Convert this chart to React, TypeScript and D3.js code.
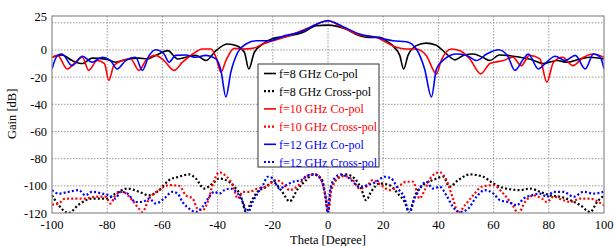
import { useEffect, useRef } from "react";
import * as d3 from "d3";

const WIDTH = 614;
const HEIGHT = 246;
const MARGIN = { top: 16, right: 10, bottom: 33, left: 52 };

type Pt = [number, number];

// co-pol (theta, gain dB)
const co8: Pt[] = [
  [-100, -5.4], [-96.4, -3.7], [-92.7, -7.8], [-89, -10], [-85.5, -6], [-80, -7], [-77, -9],
  [-73.3, -7], [-68.5, -6], [-65.5, -6.6], [-62.4, -4], [-58, -0.5], [-54.5, -6.6], [-51.5, -5.4],
  [-47.9, -4], [-44.2, -7.8], [-40.6, -0.5], [-36.4, 4.4], [-33.3, 3.2], [-30.3, -1.7], [-28.7, -14],
  [-26.7, -1.7], [-23.6, 4.4], [-20, 8.5], [-15, 10], [-9, 13], [-4.2, 17.8], [0, 18.3],
  [6.5, 15.4], [11.4, 10.5], [15, 9.3], [18.7, 9.3], [21, 6.8], [24, 2], [26, -4], [27.4, -14],
  [29, -4], [32, 3.2], [35.6, 5], [39, 3.7], [43, -3], [46, -7.3], [49, -4], [52.6, -3],
  [56, -5.4], [58.7, -7.8], [62, -3.7], [65, -4], [69.6, -5.4], [73, -6.6], [78, -10], [83, -7.8],
  [86.5, -9], [91.4, -6.6], [95, -5.4], [100, -6.6],
];
const co10: Pt[] = [
  [-100, -5.4], [-98, -4], [-94.5, -14], [-91.5, -9], [-89, -5.4], [-86.7, -15], [-83.6, -7.8],
  [-81, -10], [-79.4, -22.4], [-77.6, -11.5], [-74.5, -7.8], [-71.5, -6.6], [-68.5, -15], [-66, -7.8],
  [-62.4, -4], [-59.4, -7.8], [-55.8, -15], [-52.7, -9], [-49, -3], [-45.5, 0.7], [-42.4, 0.7],
  [-40.6, -5.4], [-38.8, -16.3], [-37, -7.8], [-34, 1.2], [-31, 0.7], [-27.3, 1.2], [-23.6, 4.4],
  [-20, 6.8], [-14, 10.5], [-6.7, 16.6], [0, 21.5], [5.3, 16.6], [11.4, 11], [17.5, 9.3],
  [21, 5.6], [24.7, 2], [28.4, 0.7], [32, 0.7], [35.6, -4], [39.3, -17.6], [41, -7.8], [44.7, 0.7],
  [47.8, -0.5], [51.4, -6.6], [55.3, -17.6], [58.7, -10], [63.5, -7.8], [67, -5.4], [70, -11.5],
  [73, -4], [76.8, -6.6], [79.3, -23.7], [81.7, -9], [85, -5.4], [88.7, -11.5], [92.6, -5.4],
  [96, -3], [100, -5.4],
];
const co12: Pt[] = [
  [-100, -14], [-98, -4], [-96.4, -3], [-92.7, -11.5], [-89, -4.6], [-85.5, -9], [-81.8, -5.4],
  [-78.8, -7.8], [-76.4, -14], [-73.3, -7.8], [-69.7, -5.4], [-67.3, -15], [-64.8, -4], [-62.4, 0.2],
  [-59.4, -3], [-57.6, -9], [-55.2, -4], [-51.5, -3.7], [-47.9, -5.4], [-44.2, -4], [-40.6, -6.6],
  [-38.8, -15], [-37, -34.6], [-35.2, -16.3], [-32.7, -1.7], [-29.7, 4.4], [-26, 6.8], [-21.2, 6.8],
  [-16.4, 10], [-9, 14], [-4.2, 19], [0, 21.5], [5.3, 17.3], [11.4, 11.7], [17.5, 9.3], [23.5, 6.8],
  [28.4, 6.1], [32, 0.7], [35, -14], [37.5, -34.6], [39.3, -14], [42.3, -6.6], [46.5, -3],
  [50.2, -4], [53.8, -7.8], [57.5, -3], [61.7, 0.2], [65, -4], [67.7, -15], [70.8, -6.6],
  [72.6, -3], [76.2, -14], [78.7, -10], [82.3, -4.6], [86, -7.8], [89.6, -4], [93.2, -14],
  [96.2, -3], [98.7, -5.4], [100, -14],
];

// cross-pol
const cross8: Pt[] = [
  [-100, -107], [-97.6, -114.3], [-94, -120], [-90.3, -113.8], [-85.5, -109.4], [-80, -109.4],
  [-77, -105.7], [-72.7, -102], [-68.5, -104.4], [-64.8, -107], [-61.2, -103.2], [-57.6, -95.8],
  [-54, -93.3], [-50.3, -91.6], [-47.9, -94.6], [-44.8, -102], [-41.8, -98.3], [-39.4, -94.6],
  [-37, -95.8], [-33.9, -100.7], [-31.5, -108], [-29.7, -119.3], [-27.9, -111.9], [-25.5, -104.4],
  [-22.4, -100.7], [-20, -97], [-17, -103.2], [-13.9, -111.4], [-10.9, -102], [-7.9, -95.8],
  [-5.5, -91.6], [-2.4, -94.6], [-0.8, -109], [0, -120], [1.1, -102], [3.5, -94.6], [6.5, -91.6],
  [9.6, -94.6], [12, -102], [13.8, -110.6], [15.6, -104.4], [18.7, -98.3], [22.3, -99.5],
  [25.3, -105.7], [27.8, -111.9], [29.6, -120], [31.4, -108], [34.4, -99.5], [38, -95.8],
  [41.7, -93.3], [44, -100.7], [47.2, -95.8], [51.4, -91.6], [56.2, -93.3], [59.9, -98.3],
  [62.3, -100.7], [65.9, -102.5], [69.6, -103.2], [73.2, -102], [76.8, -104.4], [80.5, -107],
  [84, -108], [87.8, -110.6], [91.4, -114.3], [95, -119.3], [97.5, -111.9], [100, -107],
];
const cross10: Pt[] = [
  [-100, -113.8], [-97.6, -113], [-95.2, -109.4], [-91.5, -109.4], [-87.9, -109.4], [-84.2, -108],
  [-80.6, -108], [-78.8, -113], [-77, -107], [-74.5, -104.4], [-70.9, -110.6], [-68.5, -116.8],
  [-67.3, -119.3], [-64.8, -109.4], [-61.2, -103.2], [-57.6, -99.5], [-54, -100], [-51.5, -107],
  [-49, -109.4], [-47.3, -116.8], [-45.5, -118], [-43.6, -111.9], [-41.8, -99.5], [-39.4, -90],
  [-37, -92.8], [-34.5, -99.5], [-32.7, -109.4], [-30.9, -104.4], [-28.5, -104.4], [-25.5, -102],
  [-22.4, -100.7], [-18.8, -95.8], [-16.4, -98.3], [-13.9, -103.2], [-10.9, -100], [-7.9, -93.3],
  [-4.2, -91.6], [-1.2, -104.4], [0, -120], [1.1, -104.4], [3.5, -94.6], [5.9, -92.8], [9, -95.8],
  [11.4, -102], [13.8, -100.7], [16.2, -95.8], [19.3, -99.5], [22.3, -103.2], [25.3, -100.7],
  [28.4, -97], [30.8, -97], [33.2, -109.4], [35, -103.2], [37.5, -93.3], [40.5, -90], [42.9, -95.8],
  [45.3, -109.4], [47.2, -120], [49.6, -114.3], [52.6, -107], [55.6, -100.7], [59.9, -99.5],
  [63.5, -105.7], [66.5, -113], [69, -120], [71.4, -111.9], [74.4, -107], [77.5, -109.4],
  [79.3, -111.9], [81.7, -108], [85.3, -110.6], [87.8, -111.9], [91.4, -109.4], [95, -109.4],
  [98, -111.9], [100, -114.3],
];
const cross12: Pt[] = [
  [-100, -103.2], [-97.6, -105.7], [-94, -104.4], [-90.3, -103.2], [-87.9, -107], [-85.5, -104.4],
  [-81.8, -105.7], [-79.4, -107], [-77, -109.4], [-75.2, -104.4], [-72.7, -105.7], [-69.7, -111.9],
  [-67.3, -111.9], [-64.8, -109.4], [-62.4, -113], [-59.4, -109.4], [-56.4, -104.4], [-54.5, -105.7],
  [-52.7, -111.9], [-50.3, -116.8], [-47.9, -119.3], [-45.5, -115.6], [-43, -108], [-41.2, -104.4],
  [-39.4, -105.7], [-37.6, -103.2], [-35.2, -102], [-32.7, -105.7], [-30.9, -111.9], [-29.1, -120],
  [-27.3, -111.9], [-25.5, -105.7], [-23.6, -99.5], [-21.8, -93.3], [-20, -94.6], [-17.6, -102],
  [-15.2, -99.5], [-12.7, -97], [-9.7, -95.8], [-7.3, -92.1], [-4.8, -91.6], [-2.4, -95.8],
  [-0.8, -109.4], [0, -120], [0.7, -104.4], [2.3, -94.6], [4.7, -91.6], [7.8, -94.6], [11.4, -100.7],
  [14.4, -99.5], [17.5, -97], [20.5, -93.3], [22.9, -94.6], [25.3, -102], [27.8, -109.4],
  [29.3, -120], [30.8, -111.9], [33.2, -102], [35.6, -97], [38, -102], [40.5, -100.7], [42.9, -107],
  [45.3, -115.6], [47.8, -119.3], [50.8, -116.8], [53.8, -108], [56.8, -103.2], [59.9, -105.7],
  [62.3, -110.6], [65.3, -111.9], [68.4, -114.3], [70.8, -109.4], [73.8, -107], [76.8, -105.7],
  [79.3, -108], [81.7, -104.4], [85.3, -104.4], [89, -108], [92.6, -104.4], [96.2, -105.7],
  [100, -104.4],
];

const xTicks = [-100, -80, -60, -40, -20, 0, 20, 40, 60, 80, 100];
const yTicks = [25, 0, -20, -40, -60, -80, -100, -120];
const yGrid = [20, 0, -20, -40, -60, -80, -100];

const series = [
  { label: "f=8 GHz Co-pol", data: co8, color: "#000000", dashed: false },
  { label: "f=8 GHz Cross-pol", data: cross8, color: "#000000", dashed: true },
  { label: "f=10 GHz Co-pol", data: co10, color: "#ff0000", dashed: false },
  { label: "f=10 GHz Cross-pol", data: cross10, color: "#ff0000", dashed: true },
  { label: "f=12 GHz Co-pol", data: co12, color: "#0000ff", dashed: false },
  { label: "f=12 GHz Cross-pol", data: cross12, color: "#0000ff", dashed: true },
];

const FONT = "'Liberation Serif', Tinos, 'Times New Roman', Times, 'DejaVu Serif', serif";

const App = () => {
  const ref = useRef<SVGSVGElement>(null);

  useEffect(() => {
    const svg = d3.select(ref.current);
    svg.selectAll("*").remove();

    const bw = WIDTH - MARGIN.left - MARGIN.right;
    const bh = HEIGHT - MARGIN.top - MARGIN.bottom;
    const x = d3.scaleLinear().domain([-100, 100]).range([0, bw]);
    const y = d3.scaleLinear().domain([-120, 25]).range([bh, 0]);

    svg
      .append("defs")
      .append("clipPath")
      .attr("id", "plotClip")
      .append("rect")
      .attr("width", bw)
      .attr("height", bh);

    const g = svg
      .append("g")
      .attr("transform", `translate(${MARGIN.left},${MARGIN.top})`);

    // grid
    g.selectAll(".vgrid")
      .data(xTicks.slice(1, -1))
      .join("line")
      .attr("x1", (d) => x(d))
      .attr("x2", (d) => x(d))
      .attr("y1", 0)
      .attr("y2", bh)
      .attr("stroke", "#9a9a9a")
      .attr("stroke-width", 1)
      .attr("stroke-dasharray", "1.5,1.5");
    g.selectAll(".hgrid")
      .data(yGrid)
      .join("line")
      .attr("x1", 0)
      .attr("x2", bw)
      .attr("y1", (d) => y(d))
      .attr("y2", (d) => y(d))
      .attr("stroke", "#9a9a9a")
      .attr("stroke-width", 1)
      .attr("stroke-dasharray", "1.5,1.5");

    // curves
    const line = d3
      .line<Pt>()
      .x((d) => x(d[0]))
      .y((d) => y(d[1]))
      .curve(d3.curveMonotoneX);

    const curves = g.append("g").attr("clip-path", "url(#plotClip)");
    series.forEach((s) => {
      curves
        .append("path")
        .attr("d", line(s.data))
        .attr("fill", "none")
        .attr("stroke", s.color)
        .attr("stroke-width", s.dashed ? 2.2 : 1.6)
        .attr("stroke-dasharray", s.dashed ? "2,2.2" : null);
    });

    // frame
    g.append("rect")
      .attr("width", bw)
      .attr("height", bh)
      .attr("fill", "none")
      .attr("stroke", "#8c8c8c")
      .attr("stroke-width", 1.2);

    // ticks
    g.selectAll(".xt")
      .data(xTicks)
      .join("text")
      .attr("x", (d) => x(d))
      .attr("y", bh + 16)
      .attr("text-anchor", "middle")
      .attr("font-size", 12.5)
      .text((d) => d);
    g.selectAll(".yt")
      .data(yTicks)
      .join("text")
      .attr("x", -5)
      .attr("y", (d) => y(d) + 4.5)
      .attr("text-anchor", "end")
      .attr("font-size", 12.5)
      .text((d) => d);

    // axis titles
    svg
      .append("text")
      .attr("x", MARGIN.left + bw / 2)
      .attr("y", HEIGHT - 2)
      .attr("text-anchor", "middle")
      .attr("font-size", 12.5)
      .text("Theta [Degree]");
    svg
      .append("text")
      .attr("transform", `translate(16,${MARGIN.top + y(-47)}) rotate(-90)`)
      .attr("text-anchor", "middle")
      .attr("font-size", 12.5)
      .text("Gain [dB]");

    // legend
    const lg = svg.append("g").attr("transform", "translate(258,64)");
    lg.append("rect")
      .attr("width", 121)
      .attr("height", 103)
      .attr("fill", "#ffffff")
      .attr("stroke", "#333333")
      .attr("stroke-width", 1);
    series.forEach((s, i) => {
      const yy = 9.5 + i * 17.7;
      lg.append("line")
        .attr("x1", 6)
        .attr("x2", 18)
        .attr("y1", yy)
        .attr("y2", yy)
        .attr("stroke", s.color)
        .attr("stroke-width", s.dashed ? 2.2 : 1.6)
        .attr("stroke-dasharray", s.dashed ? "2,2" : null);
      lg.append("text")
        .attr("x", 21)
        .attr("y", yy + 4.5)
        .attr("font-size", 12)
        .attr("fill", s.color)
        .text(s.label);
    });
  }, []);

  return (
    <div style={{ position: "absolute", left: 0, top: 0 }}>
      <svg
        ref={ref}
        width={WIDTH}
        height={HEIGHT}
        fontFamily={FONT}
        style={{ display: "block" }}
      />
    </div>
  );
};

export default App;
